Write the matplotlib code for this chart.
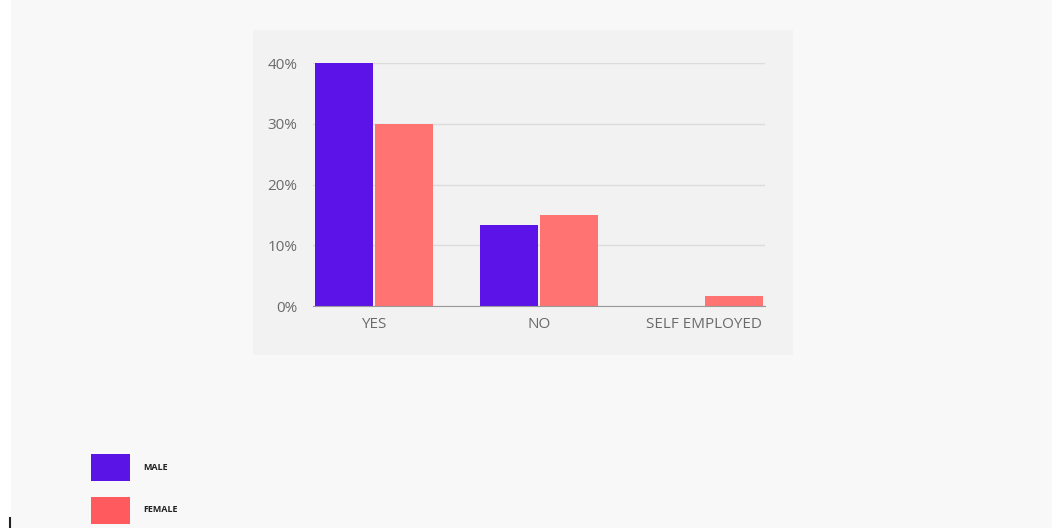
import matplotlib.pyplot as plt
from matplotlib.patches import Rectangle
from matplotlib.lines import Line2D
import numpy as np

categories = ["YES", "NO", "SELF EMPLOYED"]
male = [40.0, 13.3, 0.0]
female = [30.0, 15.0, 1.7]
series_names = ["MALE", "FEMALE"]

male_color = "#5b13e8"
female_color = "#ff7373"

W, H = 1052, 528
fig = plt.figure(figsize=(W / 100, H / 100), dpi=100)
fig.patch.set_facecolor("#f8f8f8")


def px(x0, y0, x1, y1):
    # pixel box (top-left origin) -> figure fraction rect
    return [x0 / W, 1 - y1 / H, (x1 - x0) / W, (y1 - y0) / H]


# white strip on the left edge and the grey chart card
l, b, w, h = px(0, 0, 11, H)
fig.add_artist(Rectangle((l, b), w, h, transform=fig.transFigure,
                         facecolor="white", edgecolor="none", zorder=0))
l, b, w, h = px(253, 30, 793, 355)
fig.add_artist(Rectangle((l, b), w, h, transform=fig.transFigure,
                         facecolor="#f2f2f2", edgecolor="none", zorder=0))

ax = fig.add_axes(px(313, 63, 765, 306))
ax.set_facecolor("none")

x = np.arange(len(categories))
bw = 0.355
off = 0.182
ax.bar(x - off, male, bw, color=male_color, zorder=3, clip_on=False)
ax.bar(x + off, female, bw, color=female_color, zorder=3, clip_on=False)

ax.set_xlim(-0.37, 2.37)
ax.set_ylim(0, 40)
ax.set_yticks([0, 10, 20, 30, 40])
ax.set_yticklabels([f"{v}%" for v in [0, 10, 20, 30, 40]])
ax.set_xticks(x)
ax.set_xticklabels(categories)
ax.tick_params(length=0, labelsize=11, labelcolor="#6a6a6a", labelfontfamily="Open Sans")
ax.tick_params(axis="y", pad=11)
ax.tick_params(axis="x", pad=8)

ax.grid(axis="y", color="#dcdcdc", linewidth=1, zorder=0)
for side in ["top", "right", "left"]:
    ax.spines[side].set_visible(False)
ax.spines["bottom"].set_color("#999999")
ax.spines["bottom"].set_zorder(4)

# legend swatches below the chart
legend_colors = ["#5a14e6", "#ff5b5e"]
for i, (name, col) in enumerate(zip(series_names, legend_colors)):
    top = 454 + i * 43
    l, b, w, h = px(91, top, 130, top + 27)
    fig.add_artist(Rectangle((l, b), w, h, transform=fig.transFigure,
                             facecolor=col, edgecolor="none"))
    fig.text(143 / W, 1 - (top + 13) / H, name, fontsize=6.5,
             fontweight="bold", color="#222222", va="center", ha="left",
             family="Open Sans")

fig.add_artist(Line2D([10 / W, 10 / W], [0, 10 / H], transform=fig.transFigure,
                      color="#222222", linewidth=1.5))

fig.savefig("out.png", dpi=100, facecolor=fig.get_facecolor())
